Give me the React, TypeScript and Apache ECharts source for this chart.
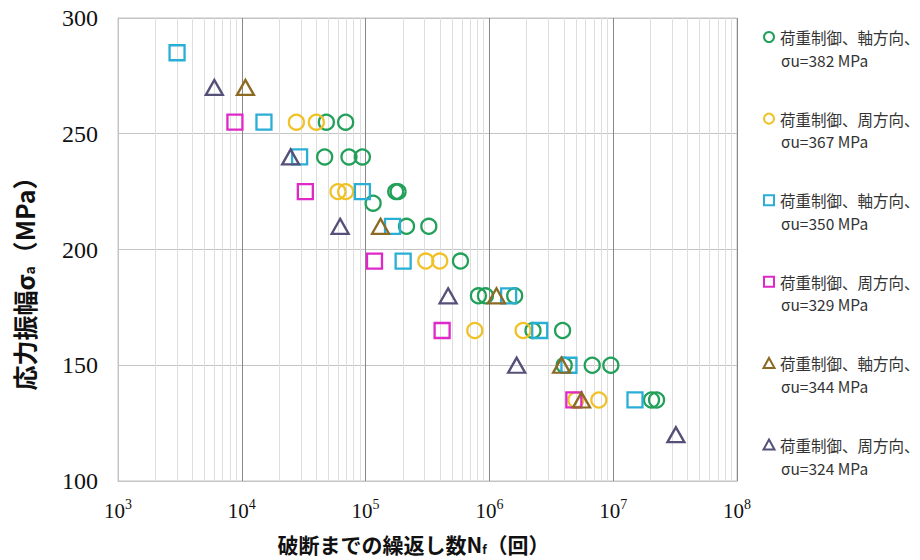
import React, { useEffect, useRef } from "react";
import * as echarts from "echarts";

// ---- data ----
const X_DECADES = [1e3, 1e4, 1e5, 1e6, 1e7, 1e8];
const X_EXPONENTS = ["3", "4", "5", "6", "7", "8"];
const MINOR_MULTIPLIERS = [2, 3, 4, 5, 6, 7, 8, 9];
const Y_TICKS = [100, 150, 200, 250, 300];

const LEGEND_LINE1 = [
  "荷重制御、軸方向、",
  "荷重制御、周方向、",
  "荷重制御、軸方向、",
  "荷重制御、周方向、",
  "荷重制御、軸方向、",
  "荷重制御、周方向、",
];
const LEGEND_LINE2 = [
  "σu=382 MPa",
  "σu=367 MPa",
  "σu=350 MPa",
  "σu=329 MPa",
  "σu=344 MPa",
  "σu=324 MPa",
];

// σu=382 MPa (green circles)
const S1_N = [48200, 69000, 46700, 73400, 94200, 175000, 183000, 115000, 214000, 324000, 584000, 815000, 929000, 1600000, 2250000, 3900000, 4020000, 6770000, 9570000, 20400000, 22400000];
const S1_S = [255, 255, 240, 240, 240, 225, 225, 220, 210, 210, 195, 180, 180, 180, 165, 165, 150, 150, 150, 135, 135];
// σu=367 MPa (yellow circles)
const S2_N = [27600, 40000, 59800, 69000, 306000, 397000, 762000, 1870000, 5000000, 7660000];
const S2_S = [255, 255, 225, 225, 195, 195, 165, 165, 135, 135];
// σu=350 MPa (blue squares)
const S3_N = [3000, 15100, 29300, 94200, 165000, 201000, 1430000, 2550000, 4390000, 15000000];
const S3_S = [285, 255, 240, 225, 210, 195, 180, 165, 150, 135];
// σu=329 MPa (magenta squares)
const S4_N = [8800, 32600, 118000, 415000, 4810000];
const S4_S = [255, 225, 195, 165, 135];
// σu=344 MPa (brown triangles)
const S5_N = [10700, 132000, 1140000, 3830000, 5550000];
const S5_S = [270, 210, 180, 150, 135];
// σu=324 MPa (purple triangles)
const S6_N = [6000, 24800, 62300, 464000, 1660000, 32100000];
const S6_S = [270, 240, 210, 180, 150, 120];

const COLORS = ["#22a05a", "#f0c228", "#2aaed6", "#e028c8", "#8c6a23", "#555078"];
const SYMBOLS = ["circle", "circle", "rect", "rect", "triangle", "triangle"];

const CJK = '"Noto Sans CJK JP", "Noto Sans", sans-serif';
const SERIF = '"Liberation Serif", "DejaVu Serif", serif';

export default function App() {
  const ref = useRef<HTMLDivElement>(null);

  useEffect(() => {
    document.body.style.margin = "0";
    if (!ref.current) return;
    const chart = echarts.init(ref.current, undefined, { renderer: "svg" });

    const xs = [S1_N, S2_N, S3_N, S4_N, S5_N, S6_N];
    const ys = [S1_S, S2_S, S3_S, S4_S, S5_S, S6_S];

    const minorLines: any[] = [];
    X_DECADES.slice(0, -1).forEach((d) => {
      MINOR_MULTIPLIERS.forEach((m) => minorLines.push({ xAxis: d * m }));
    });

    const symbolSize = (sym: string) =>
      sym === "triangle" ? [17, 15] : 15;

    const series: any[] = [
      {
        type: "scatter",
        name: "__minor",
        data: [],
        z: 1,
        silent: true,
        markLine: {
          silent: true,
          z: 1,
          symbol: "none",
          label: { show: false },
          lineStyle: { color: "#dedede", width: 1, type: "solid" },
          data: minorLines,
        },
      },
    ];
    LEGEND_LINE1.forEach((l1, i) => {
      series.push({
        type: "scatter",
        name: l1 + LEGEND_LINE2[i],
        symbol: SYMBOLS[i],
        symbolSize: symbolSize(SYMBOLS[i]),
        z: 3,
        itemStyle: {
          color: "rgba(0,0,0,0)",
          borderColor: COLORS[i],
          borderWidth: 2.3,
          opacity: 1,
        },
        data: xs[i].map((x, k) => [x, ys[i][k]]),
      });
    });

    // legend drawn as graphic elements (icon aligned with first text line)
    const legendEls: any[] = [];
    const LX = 769;
    LEGEND_LINE1.forEach((l1, i) => {
      const y1 = 37 + i * 81.6;
      const y2 = y1 + 22.5;
      const stroke = COLORS[i];
      const st = { fill: "none", stroke, lineWidth: 2 };
      if (SYMBOLS[i] === "circle") {
        legendEls.push({ type: "circle", shape: { cx: LX, cy: y1, r: 5 }, style: st });
      } else if (SYMBOLS[i] === "rect") {
        legendEls.push({ type: "rect", shape: { x: LX - 5, y: y1 - 5, width: 10, height: 10 }, style: st });
      } else {
        legendEls.push({
          type: "polygon",
          shape: { points: [[LX, y1 - 5.5], [LX + 5.5, y1 + 4.5], [LX - 5.5, y1 + 4.5]] },
          style: st,
        });
      }
      legendEls.push({
        type: "text",
        x: 780,
        y: y1,
        style: { text: l1, font: `15.5px ${CJK}`, fill: "#333333", verticalAlign: "middle", align: "left" },
      });
      legendEls.push({
        type: "text",
        x: 781,
        y: y2,
        style: { text: LEGEND_LINE2[i], font: `15.5px ${CJK}`, fill: "#333333", verticalAlign: "middle", align: "left" },
      });
    });

    const option: any = {
      animation: false,
      grid: {
        left: 118,
        top: 18,
        right: 183,
        bottom: 79,
        show: true,
        borderColor: "#c4c4c4",
        borderWidth: 1,
      },
      graphic: legendEls,
      xAxis: {
        type: "log",
        logBase: 10,
        min: X_DECADES[0],
        max: X_DECADES[X_DECADES.length - 1],
        splitNumber: 5,
        axisLine: { show: true, lineStyle: { color: "#c4c4c4" } },
        axisTick: { show: false },
        splitLine: { show: true, lineStyle: { color: "#888888", width: 1 } },
        axisLabel: {
          margin: 17,
          formatter: (v: number) => {
            const idx = X_DECADES.findIndex((d) => Math.abs(d - v) / d < 1e-6);
            return idx >= 0 ? `{b|10}{s|${X_EXPONENTS[idx]}}` : "";
          },
          rich: {
            b: { fontFamily: SERIF, fontSize: 21, color: "#111", verticalAlign: "bottom", lineHeight: 24 },
            s: { fontFamily: SERIF, fontSize: 14, color: "#111", verticalAlign: "top", lineHeight: 24, padding: [0, 0, 10, 0] },
          },
        },
        name: "{t|破断までの繰返し数N}{s|f}{t|（回）}",
        nameLocation: "middle",
        nameGap: 52,
        nameTextStyle: {
          padding: [0, 28, 0, 0],
          rich: {
            t: { fontFamily: CJK, fontSize: 21, fontWeight: "bold", color: "#111" },
            s: { fontFamily: CJK, fontSize: 12, fontWeight: "bold", color: "#111", padding: [10, 0, 0, 0] },
          },
        },
      },
      yAxis: {
        type: "value",
        min: Y_TICKS[0],
        max: Y_TICKS[Y_TICKS.length - 1],
        interval: 50,
        axisLine: { show: true, lineStyle: { color: "#c4c4c4" } },
        axisTick: { show: false },
        splitLine: { show: true, lineStyle: { color: "#c4c4c4", width: 1 } },
        axisLabel: {
          margin: 20,
          fontFamily: SERIF,
          fontSize: 24,
          color: "#111",
        },
        name: "{t|応力振幅σ}{s|a}{t|（MPa）}",
        nameLocation: "middle",
        nameGap: 82,
        nameRotate: 90,
        nameTextStyle: {
          padding: [0, 56, 0, 0],
          rich: {
            t: { fontFamily: CJK, fontSize: 25, fontWeight: "bold", color: "#111" },
            s: { fontFamily: CJK, fontSize: 14, fontWeight: "bold", color: "#111", padding: [11, 0, 0, 0] },
          },
        },
      },
      series,
    };

    chart.setOption(option);
    return () => chart.dispose();
  }, []);

  return <div ref={ref} style={{ width: 920, height: 560 }} />;
}
